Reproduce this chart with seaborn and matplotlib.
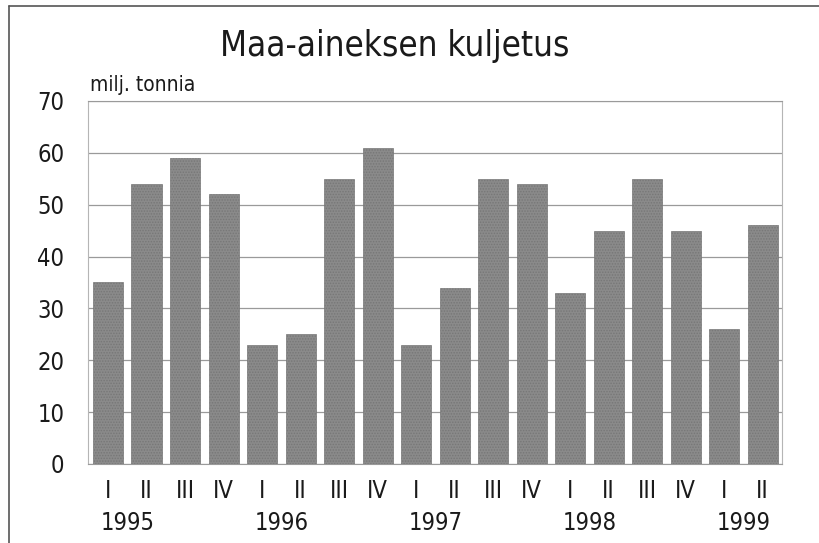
import matplotlib
matplotlib.use("Agg")
import matplotlib.pyplot as plt
import seaborn as sns
import pandas as pd
from matplotlib.lines import Line2D

# Data
years = ["1995", "1996", "1997", "1998", "1999"]
quarters = ["I", "II", "III", "IV", "I", "II", "III", "IV", "I", "II",
            "III", "IV", "I", "II", "III", "IV", "I", "II"]
quarter_year = ["1995"] * 4 + ["1996"] * 4 + ["1997"] * 4 + ["1998"] * 4 + ["1999"] * 2
values = [35, 54, 59, 52, 23, 25, 55, 61, 23, 34, 55, 54, 33, 45, 55, 45, 26, 46]

df = pd.DataFrame({
    "jakso": [f"{y} {q}" for y, q in zip(quarter_year, quarters)],
    "tonnia": values,
})

sns.set_style("white")
plt.rcParams["font.family"] = ["DejaVu Sans"]
plt.rcParams["font.stretch"] = "condensed"
plt.rcParams["hatch.linewidth"] = 0.7
plt.rcParams["hatch.color"] = "#2e2e2e"

fig = plt.figure(figsize=(8.19, 5.43), dpi=100)
ax = fig.add_axes([0.1074, 0.1455, 0.8474, 0.6685])

sns.barplot(data=df, x="jakso", y="tonnia", color="#8a8a8a", width=0.78,
            saturation=1, ax=ax, zorder=3)
for p in ax.patches:
    p.set_hatch("......")
    p.set_edgecolor("#777777")
    p.set_linewidth(0.5)

ax.set_ylim(0, 70)
ax.set_xlim(-0.52, 17.5)
ax.set_yticks(range(0, 71, 10))
ax.yaxis.grid(True, color="#9a9a9a", linewidth=0.9, zorder=0)
ax.set_axisbelow(True)
for s in ["left", "right", "top", "bottom"]:
    ax.spines[s].set_visible(True)
    ax.spines[s].set_color("#b5b5b5")
    ax.spines[s].set_linewidth(0.8)
ax.spines["top"].set_color("#9a9a9a")
ax.spines["bottom"].set_color("#9a9a9a")

ax.tick_params(axis="y", length=10, width=0.9, color="#9a9a9a", labelsize=17, pad=7)
ax.tick_params(axis="x", length=0, labelsize=17, pad=11)
ax.set_xticks(range(len(quarters)))
ax.set_xticklabels(quarters)
ax.set_xlabel("")
ax.set_ylabel("")
for lab in ax.get_xticklabels() + ax.get_yticklabels():
    lab.set_color("#1a1a1a")

# year labels centred between quarters I and II
first_idx = [quarter_year.index(y) for y in years]
for y, i in zip(years, first_idx):
    ax.text(i + 0.5, -0.162, y, transform=ax.get_xaxis_transform(),
            ha="center", va="center", fontsize=17, color="#1a1a1a")

fig.text(0.482, 0.915, "Maa-aineksen kuljetus", ha="center", va="center",
         fontsize=25, color="#1a1a1a")
fig.text(0.110, 0.843, "milj. tonnia", ha="left", va="center",
         fontsize=15, color="#1a1a1a")

# frame around the figure (left and top)
fig.add_artist(Line2D([0.011, 0.011], [0.0, 0.989], transform=fig.transFigure,
                      color="#555555", linewidth=1.2))
fig.add_artist(Line2D([0.011, 1.0], [0.989, 0.989], transform=fig.transFigure,
                      color="#555555", linewidth=1.2))

fig.savefig("out.png", dpi=100)
